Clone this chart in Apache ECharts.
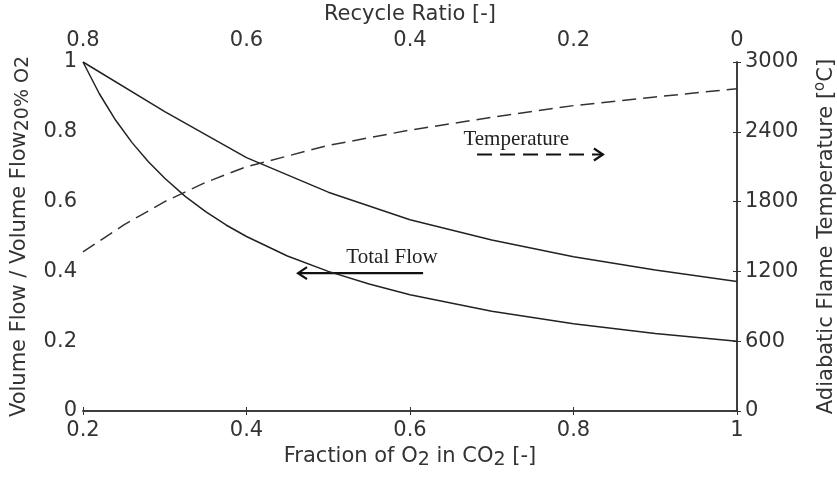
<!DOCTYPE html>
<html>
<head>
<meta charset="utf-8">
<script src="https://cdn.jsdelivr.net/npm/echarts@6/dist/echarts.min.js"></script>
<style>
  html, body { margin: 0; padding: 0; background: #fff; }
  #main { width: 837px; height: 477px; }
</style>
</head>
<body>
<div id="main"></div>
<script>
// fraction of O2 in CO2 (bottom axis)
var fracFlow = [0.2, 0.3, 0.4, 0.5, 0.6, 0.7, 0.8, 0.9, 1.0];
var totalFlow = [1.0, 0.858, 0.726, 0.627, 0.548, 0.49, 0.442, 0.404, 0.371];

var fracO2 = [0.2, 0.22, 0.24, 0.26, 0.28, 0.3, 0.325, 0.35, 0.375, 0.4, 0.45, 0.5, 0.55, 0.6, 0.7, 0.8, 0.9, 1.0];
var o2Flow = [1.0, 0.909, 0.833, 0.769, 0.714, 0.667, 0.615, 0.571, 0.533, 0.5, 0.444, 0.4, 0.364, 0.333, 0.286, 0.25, 0.222, 0.2];

var fracTemp = [0.2, 0.25, 0.3, 0.35, 0.4, 0.5, 0.6, 0.7, 0.8, 0.9, 1.0];
var flameTemp = [1367, 1600, 1800, 1965, 2100, 2283, 2415, 2525, 2625, 2700, 2770];

var myChart = echarts.init(document.getElementById("main"));

function pairs(xs, ys) {
  var out = [];
  for (var i = 0; i < xs.length; i++) out.push([xs[i], ys[i]]);
  return out;
}

var axisFont = "DejaVu Sans";
var lineCol = "#333";
var txtCol = "#333";

var option = {
  animation: false,
  grid: { left: 83, right: 100, top: 62, bottom: 66, outerBoundsMode: "none" },
  xAxis: [
    {
      type: "value", min: 0.2, max: 1, interval: 0.2, position: "bottom",
      name: "{n|Fraction of O}{s|2}{n| in CO}{s|2}{n| [-]}",
      nameLocation: "middle", nameGap: 33,
      nameTextStyle: {
        rich: {
          n: { fontFamily: axisFont, fontSize: 21, color: txtCol, verticalAlign: "top", lineHeight: 24 },
          s: { fontFamily: axisFont, fontSize: 19, color: txtCol, verticalAlign: "bottom", lineHeight: 24, padding: [5, 0, 0, 0] }
        }
      },
      axisLine: { show: true, lineStyle: { color: lineCol, width: 1.5 } },
      axisTick: { inside: true, length: 4, lineStyle: { color: lineCol } },
      axisLabel: { fontFamily: axisFont, fontSize: 21, color: txtCol, margin: 9 },
      splitLine: { show: false }
    },
    {
      type: "value", min: 0, max: 0.8, interval: 0.2, inverse: true, position: "top",
      name: "Recycle Ratio [-]", nameLocation: "middle", nameGap: 36,
      nameTextStyle: { fontFamily: axisFont, fontSize: 21, color: txtCol },
      axisLine: { show: true, lineStyle: { color: lineCol, width: 1.5 } },
      axisTick: { inside: true, length: 4, lineStyle: { color: lineCol } },
      axisLabel: { fontFamily: axisFont, fontSize: 21, color: txtCol, margin: 11 },
      splitLine: { show: false }
    }
  ],
  yAxis: [
    {
      type: "value", min: 0, max: 1, interval: 0.2, position: "left",
      name: "{n|Volume Flow / Volume Flow}{s|20% O2}",
      nameLocation: "middle", nameGap: 48,
      nameTextStyle: {
        rich: {
          n: { fontFamily: axisFont, fontSize: 21, color: txtCol, verticalAlign: "top", lineHeight: 24 },
          s: { fontFamily: axisFont, fontSize: 19, color: txtCol, verticalAlign: "bottom", lineHeight: 24, padding: [5, 0, 0, 0] }
        }
      },
      axisLine: { show: true, lineStyle: { color: lineCol, width: 1.5 } },
      axisTick: { inside: true, length: 4, lineStyle: { color: lineCol } },
      axisLabel: { fontFamily: axisFont, fontSize: 21, color: txtCol, margin: 6 },
      splitLine: { show: false }
    },
    {
      type: "value", min: 0, max: 3000, interval: 600, position: "right",
      name: "{n|Adiabatic Flame Temperature [}{p|o}{n|C]}",
      nameLocation: "middle", nameGap: 76,
      nameTextStyle: {
        rich: {
          n: { fontFamily: axisFont, fontSize: 21, color: txtCol, verticalAlign: "bottom", lineHeight: 24 },
          p: { fontFamily: axisFont, fontSize: 15, color: txtCol, verticalAlign: "top", lineHeight: 18, padding: [0, 0, 8, 0] }
        }
      },
      axisLine: { show: true, lineStyle: { color: lineCol, width: 1.5 } },
      axisTick: { inside: true, length: 4, lineStyle: { color: lineCol } },
      axisLabel: {
        fontFamily: axisFont, fontSize: 21, color: txtCol, margin: 8,
        formatter: function (v) { return String(v); }
      },
      splitLine: { show: false }
    }
  ],
  series: [
    {
      name: "Total Flow", type: "line", xAxisIndex: 0, yAxisIndex: 0,
      data: pairs(fracFlow, totalFlow), showSymbol: false, smooth: false,
      lineStyle: { color: "#222", width: 1.5 }
    },
    {
      name: "O2 Flow", type: "line", xAxisIndex: 0, yAxisIndex: 0,
      data: pairs(fracO2, o2Flow), showSymbol: false, smooth: false,
      lineStyle: { color: "#222", width: 1.5 }
    },
    {
      name: "Temperature", type: "line", xAxisIndex: 0, yAxisIndex: 1,
      data: pairs(fracTemp, flameTemp), showSymbol: false, smooth: false,
      lineStyle: { color: "#333", width: 1.5, type: [14, 7] }
    }
  ]
};

myChart.setOption(option);

// annotations placed in data coordinates of the left/bottom axes
function px(x, y) {
  return myChart.convertToPixel({ xAxisIndex: 0, yAxisIndex: 0 }, [x, y]);
}
var tA = px(0.682, 0.735), tB = px(0.836, 0.735), tText = px(0.73, 0.777);
var fA = px(0.616, 0.395), fB = px(0.463, 0.395), fText = px(0.578, 0.44);

myChart.setOption({
  graphic: [
    {
      type: "text", x: tText[0], y: tText[1],
      style: { text: "Temperature", font: "21px 'Liberation Serif'", fill: "#222", align: "center", verticalAlign: "middle" }
    },
    {
      type: "line", shape: { x1: tA[0], y1: tA[1], x2: tB[0] - 2, y2: tB[1] },
      style: { stroke: "#111", lineWidth: 2.2, lineDash: [15, 8] }
    },
    {
      type: "polyline", shape: { points: [[tB[0] - 9, tB[1] - 6], [tB[0], tB[1]], [tB[0] - 9, tB[1] + 6]] },
      style: { stroke: "#111", lineWidth: 2.2, fill: null }
    },
    {
      type: "text", x: fText[0], y: fText[1],
      style: { text: "Total Flow", font: "21px 'Liberation Serif'", fill: "#222", align: "center", verticalAlign: "middle" }
    },
    {
      type: "line", shape: { x1: fA[0], y1: fA[1], x2: fB[0] + 1, y2: fB[1] },
      style: { stroke: "#111", lineWidth: 2.2 }
    },
    {
      type: "polyline", shape: { points: [[fB[0] + 9, fB[1] - 6], [fB[0], fB[1]], [fB[0] + 9, fB[1] + 6]] },
      style: { stroke: "#111", lineWidth: 2.2, fill: null }
    }
  ]
});
</script>
</body>
</html>
